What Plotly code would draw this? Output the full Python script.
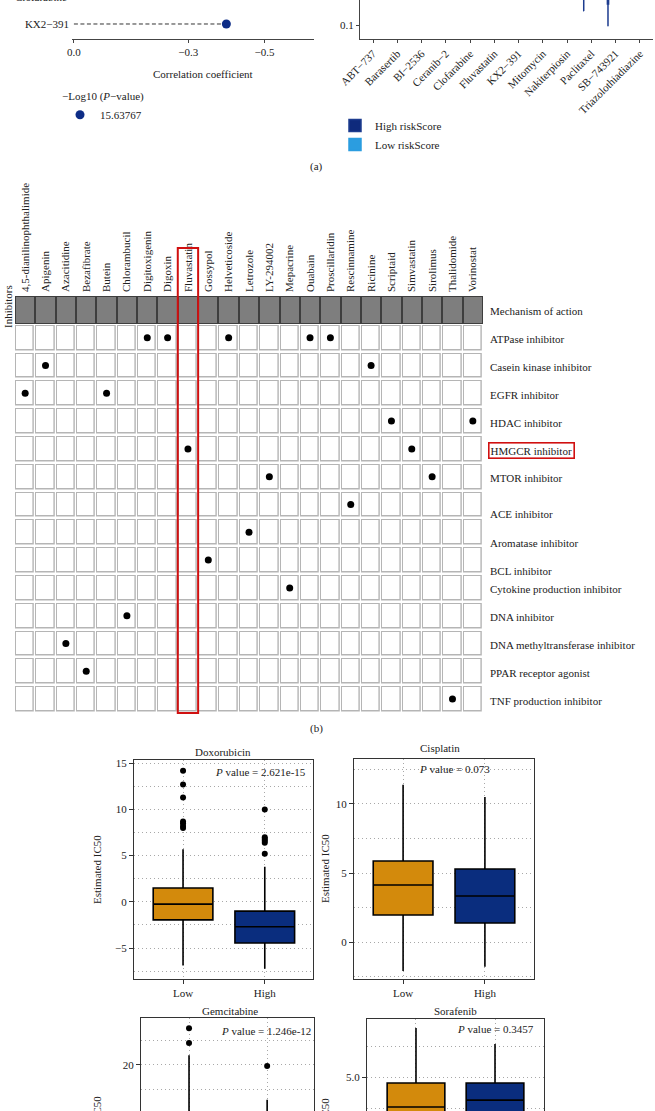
import plotly.graph_objects as go

W, H = 655, 1111
FONT = "Liberation Serif"
TXT = "#222222"


def fx(px):
    return px / W


def fy(py):
    return 1 - py / H


# ---------------- (a) left: correlation dot plot ----------------
corr_drugs = ["KX2\u2212391", "Clofarabine"]
corr_values = [-0.400, -0.416]
corr_logp = "15.63767"
corr_tickvals = [0.0, -0.3, -0.5]
corr_ticktext = ["0.0", "\u22120.3", "\u22120.5"]

# ---------------- (a) right: estimated IC50 boxes (log scale) ----------------
ic50_drugs = ["ABT\u2212737", "Barasertib", "BI\u22122536", "Ceranib\u22122", "Clofarabine",
              "Fluvastatin", "KX2\u2212391", "Mitomycin", "Nakiterpiosin", "Paclitaxel",
              "SB\u2212743921", "Triazolothiadiazine"]
high_lower = [3.0, 1.2, 0.5, 4.0, 2.0, 3.0, 0.4, 0.6, 0.3, 0.171, 0.096, 1.5]
high_q1 = [8.0, 4.0, 1.5, 9.0, 6.0, 10.0, 1.2, 1.8, 0.8, 0.6, 0.224, 5.0]
high_med = [12.0, 6.5, 2.5, 13.0, 9.0, 16.0, 2.0, 3.0, 1.3, 1.1, 0.45, 8.0]
high_q3 = [18.0, 10.0, 4.0, 18.0, 14.0, 25.0, 3.2, 4.5, 2.0, 2.0, 0.8, 12.0]
high_upper = [35.0, 20.0, 8.0, 30.0, 26.0, 50.0, 6.0, 9.0, 4.0, 5.0, 2.0, 22.0]
low_lower = [4.0, 1.5, 0.7, 5.0, 3.0, 4.0, 0.6, 0.8, 0.4, 0.3, 0.28, 2.0]
low_q1 = [10.0, 5.0, 2.0, 11.0, 8.0, 13.0, 1.7, 2.3, 1.1, 1.0, 0.5, 6.5]
low_med = [15.0, 8.0, 3.2, 15.0, 12.0, 20.0, 2.8, 3.8, 1.8, 1.7, 0.9, 10.0]
low_q3 = [22.0, 12.0, 5.0, 21.0, 18.0, 30.0, 4.2, 5.6, 2.7, 2.8, 1.5, 15.0]
low_upper = [40.0, 24.0, 10.0, 35.0, 32.0, 60.0, 8.0, 11.0, 5.0, 6.0, 3.5, 27.0]

# ---------------- (b) inhibitors x mechanism grid ----------------
inhibitors = ["4,5-dianilinophthalimide", "Apigenin", "Azacitidine", "Bezafibrate", "Butein",
              "Chlorambucil", "Digitoxigenin", "Digoxin", "Fluvastatin", "Gossypol",
              "Helveticoside", "Letrozole", "LY-294002", "Mepacrine", "Ouabain",
              "Proscillaridin", "Rescinnamine", "Ricinine", "Scriptaid", "Simvastatin",
              "Sirolimus", "Thalidomide", "Vorinostat"]
mechanisms = ["ATPase inhibitor", "Casein kinase inhibitor", "EGFR inhibitor", "HDAC inhibitor",
              "HMGCR inhibitor", "MTOR inhibitor", "ACE inhibitor", "Aromatase inhibitor",
              "BCL inhibitor", "Cytokine production inhibitor", "DNA inhibitor",
              "DNA methyltransferase inhibitor", "PPAR receptor agonist", "TNF production inhibitor"]
inhibitor_moa = ["EGFR inhibitor", "Casein kinase inhibitor", "DNA methyltransferase inhibitor",
                 "PPAR receptor agonist", "EGFR inhibitor", "DNA inhibitor", "ATPase inhibitor",
                 "ATPase inhibitor", "HMGCR inhibitor", "BCL inhibitor", "ATPase inhibitor",
                 "Aromatase inhibitor", "MTOR inhibitor", "Cytokine production inhibitor",
                 "ATPase inhibitor", "ATPase inhibitor", "ACE inhibitor", "Casein kinase inhibitor",
                 "HDAC inhibitor", "HMGCR inhibitor", "MTOR inhibitor", "TNF production inhibitor",
                 "HDAC inhibitor"]
header_label = "Mechanism of action"
highlight_drug = "Fluvastatin"
highlight_moa = "HMGCR inhibitor"

# ---------------- (c) estimated IC50 boxes ----------------
groups = ["Low", "High"]
box_panels = [
    dict(name="Doxorubicin", p="2.621e-15",
         lower=[-6.9, -7.25], q1=[-1.95, -4.45], med=[-0.25, -2.7], q3=[1.5, -1.0], upper=[5.7, 3.8],
         out_low=[14.2, 12.7, 11.3, 8.7, 8.5, 8.2, 8.0], out_high=[10.0, 7.0, 6.8, 6.6, 6.4, 5.2]),
    dict(name="Cisplatin", p="0.073",
         lower=[-2.1, -1.8], q1=[1.96, 1.38], med=[4.13, 3.33], q3=[5.87, 5.29], upper=[11.4, 10.5],
         out_low=[], out_high=[]),
    dict(name="Gemcitabine", p="1.246e-12",
         lower=[-5.0, -6.0], q1=[1.0, -1.0], med=[4.0, 2.0], q3=[8.0, 5.0], upper=[22.0, 12.9],
         out_low=[27.5, 24.5], out_high=[19.8]),
    dict(name="Sorafenib", p="0.3457",
         lower=[0.5, 0.8], q1=[2.3, 2.5], med=[3.79, 4.07], q3=[4.76, 4.76], upper=[6.98, 6.33],
         out_low=[], out_high=[]),
]
box_colors = ["#D38A0C", "#0A2D7E"]

fig = go.Figure()

# ---- (a) left traces
seg_x, seg_y = [], []
for d, v in zip(corr_drugs, corr_values):
    seg_x += [0, v, None]
    seg_y += [d, d, None]
fig.add_trace(go.Scatter(x=seg_x, y=seg_y, mode="lines", xaxis="x", yaxis="y",
                         line=dict(color="#333333", width=1, dash="4px,2.5px"),
                         showlegend=False, hoverinfo="skip"))
fig.add_trace(go.Scatter(x=corr_values, y=corr_drugs, mode="markers", xaxis="x", yaxis="y",
                         marker=dict(color="#0D2C86", size=9), cliponaxis=False,
                         name=corr_logp, legend="legend2", showlegend=True))

# ---- (a) right traces
fig.add_trace(go.Box(x=ic50_drugs, lowerfence=high_lower, q1=high_q1, median=high_med,
                     q3=high_q3, upperfence=high_upper, name="High riskScore",
                     fillcolor="#0F2A7C", line=dict(color="#1D3C8F", width=1.5),
                     xaxis="x2", yaxis="y2", legend="legend", boxpoints=False))
fig.add_trace(go.Box(x=ic50_drugs, lowerfence=low_lower, q1=low_q1, median=low_med,
                     q3=low_q3, upperfence=low_upper, name="Low riskScore",
                     fillcolor="#2B9DE0", line=dict(color="#2B9DE0", width=1.5),
                     xaxis="x2", yaxis="y2", legend="legend", boxpoints=False))

# ---- (b) grid
fig.add_trace(go.Heatmap(x=inhibitors, y=mechanisms,
                         z=[[0] * len(inhibitors) for _ in mechanisms],
                         colorscale=[[0, "#B5B5B5"], [1, "#B5B5B5"]], showscale=False,
                         xgap=1.2, ygap=2.5, xaxis="x3", yaxis="y3", hoverinfo="skip"))
fig.add_trace(go.Heatmap(x=inhibitors, y=mechanisms,
                         z=[[0] * len(inhibitors) for _ in mechanisms],
                         colorscale=[[0, "#FFFFFF"], [1, "#FFFFFF"]], showscale=False,
                         xgap=3.6, ygap=5, xaxis="x3", yaxis="y3", hoverinfo="skip"))
fig.add_trace(go.Heatmap(x=inhibitors, y=[header_label], z=[[1] * len(inhibitors)],
                         colorscale=[[0, "#3E3E3E"], [1, "#3E3E3E"]], showscale=False,
                         xaxis="x3", yaxis="y3", hoverinfo="skip"))
fig.add_trace(go.Heatmap(x=inhibitors, y=[header_label], z=[[1] * len(inhibitors)],
                         colorscale=[[0, "#7E7E7E"], [1, "#7E7E7E"]], showscale=False,
                         xgap=2, ygap=2, xaxis="x3", yaxis="y3", hoverinfo="skip"))
fig.add_trace(go.Scatter(x=inhibitors, y=inhibitor_moa, mode="markers", xaxis="x3", yaxis="y3",
                         marker=dict(color="black", size=7), showlegend=False))

# ---- (c) boxes
for k, bp in enumerate(box_panels):
    ax = str(k + 4)
    for gi, g in enumerate(groups):
        fig.add_trace(go.Box(x=[g], lowerfence=[bp["lower"][gi]], q1=[bp["q1"][gi]],
                             median=[bp["med"][gi]], q3=[bp["q3"][gi]],
                             upperfence=[bp["upper"][gi]], fillcolor=box_colors[gi],
                             line=dict(color="black", width=1.6), whiskerwidth=0,
                             width=0.73, offsetgroup="c" + ax, boxpoints=False,
                             xaxis="x" + ax, yaxis="y" + ax, showlegend=False))
    outs = [("Low", bp["out_low"]), ("High", bp["out_high"])]
    for g, vals in outs:
        if vals:
            fig.add_trace(go.Scatter(x=[g] * len(vals), y=vals, mode="markers",
                                     marker=dict(color="black", size=6),
                                     xaxis="x" + ax, yaxis="y" + ax, showlegend=False))

font = dict(family=FONT, size=11, color=TXT)
layout = dict(
    width=W, height=H, margin=dict(l=0, r=0, t=0, b=0, autoexpand=False),
    paper_bgcolor="white", plot_bgcolor="white", font=font, boxmode="group",
    boxgap=0.3, boxgroupgap=0.3,
)

# axes (a) left
layout["xaxis"] = dict(domain=[fx(72), fx(314)], range=[0.005, -0.63], anchor="y",
                       tickvals=corr_tickvals, ticktext=corr_ticktext, showline=True,
                       linecolor="#444444", linewidth=1, ticks="outside", ticklen=3,
                       tickcolor="#444444", showgrid=False, zeroline=False, automargin=False)
layout["yaxis"] = dict(domain=[fy(39), 1], type="category", categoryorder="array",
                       categoryarray=corr_drugs, range=[-0.556, 0.889], anchor="x",
                       showline=False, ticks="", showgrid=False, zeroline=False,
                       automargin=False, ticklabelstandoff=2)
# axes (a) right
layout["xaxis2"] = dict(domain=[fx(360), fx(653)], type="category", categoryorder="array",
                        categoryarray=ic50_drugs, range=[-0.536, 11.54], anchor="y2",
                        tickangle=-45, showline=True, linecolor="#444444", ticks="outside",
                        ticklen=3, tickcolor="#444444", showgrid=False, automargin=False)
layout["yaxis2"] = dict(domain=[fy(39), 1], type="log", range=[-1.233, -0.583], anchor="x2",
                        tickvals=[0.1], ticktext=["0.1"], showline=True, linecolor="#444444",
                        ticks="outside", ticklen=3, tickcolor="#444444", showgrid=False,
                        zeroline=False, automargin=False)
# axes (b)
rows = [header_label] + mechanisms
layout["xaxis3"] = dict(domain=[fx(15), fx(483)], type="category", categoryorder="array",
                        categoryarray=inhibitors, range=[-0.5, len(inhibitors) - 0.5],
                        anchor="y3", side="top", tickangle=-90, ticks="", showgrid=False,
                        showline=False, zeroline=False, automargin=False,
                        ticklabelstandoff=3)
layout["yaxis3"] = dict(domain=[fy(713), fy(296)], type="category", categoryorder="array",
                        categoryarray=rows, range=[len(rows) - 0.5, -0.5], anchor="x3",
                        showticklabels=False, ticks="", showgrid=False, showline=False,
                        zeroline=False, automargin=False)

# axes (c)
GRID = "#A8A8A8"
GDASH = "1px,3px"
c_dom = [
    dict(x=[134, 313], y=[979, 760], xr=[-0.6, 1.59], yr=[-8.35, 15.35], dt=5, mdt=2.5, fmt="", xl=True),
    dict(x=[354, 534], y=[979, 759], xr=[-0.6, 1.6], yr=[-2.68, 13.26], dt=5, mdt=2.5, fmt="", xl=True),
    dict(x=[141, 314], y=[1111, 1018], xr=[-0.615, 1.6], yr=[10.6, 29.6], dt=10, mdt=5, fmt="", xl=False),
    dict(x=[367, 544], y=[1111, 1019], xr=[-0.62, 1.62], yr=[3.63, 7.34], dt=2.5, mdt=1.25, fmt=".1f", xl=False),
]
for k, d in enumerate(c_dom):
    ax = str(k + 4)
    layout["xaxis" + ax] = dict(domain=[fx(d["x"][0]), fx(d["x"][1])], type="category",
                                categoryorder="array", categoryarray=groups, range=d["xr"],
                                anchor="y" + ax, showline=True, mirror=True,
                                linecolor="#333333", linewidth=1,
                                ticks="outside" if d["xl"] else "", ticklen=4,
                                showticklabels=d["xl"],
                                tickcolor="#333333", showgrid=True, gridcolor=GRID,
                                griddash=GDASH, gridwidth=1, zeroline=False, automargin=False)
    layout["yaxis" + ax] = dict(domain=[fy(d["y"][0]), fy(d["y"][1])], range=d["yr"],
                                anchor="x" + ax, dtick=d["dt"], tick0=0, tickformat=d["fmt"],
                                showline=True, mirror=True, linecolor="#333333", linewidth=1,
                                ticks="outside", ticklen=4, tickcolor="#333333", showgrid=True,
                                gridcolor=GRID, griddash=GDASH, gridwidth=1,
                                minor=dict(dtick=d["mdt"], tick0=0, showgrid=True,
                                           gridcolor=GRID, griddash=GDASH, gridwidth=1,
                                           ticks=""),
                                zeroline=False, automargin=False)

layout["legend"] = dict(x=fx(335), y=fy(111), xanchor="left", yanchor="top",
                        font=dict(family=FONT, size=11, color=TXT), bgcolor="rgba(0,0,0,0)",
                        tracegroupgap=0)
layout["legend2"] = dict(x=fx(60), y=fy(86), xanchor="left", yanchor="top",
                         title=dict(text="\u2212Log10 (<i>P</i>\u2212value)",
                                    font=dict(family=FONT, size=11, color=TXT)),
                         font=dict(family=FONT, size=11, color=TXT), bgcolor="rgba(0,0,0,0)")

ann = []


def ann_px(x, y, text, xanchor="center", **kw):
    a = dict(x=fx(x), y=fy(y), xref="paper", yref="paper", text=text, showarrow=False,
             xanchor=xanchor, yanchor="middle", font=dict(family=FONT, size=11, color=TXT))
    a.update(kw)
    ann.append(a)


ann_px(316, 167, "(a)")
ann_px(316, 728, "(b)")
ann_px(203, 74, "Correlation coefficient")
# partially visible top row label of the dot plot
ann.append(dict(x=0, y=(1 + 0.556) / (0.889 + 0.556), xref="x domain", yref="y domain",
                text=corr_drugs[1], showarrow=False, xanchor="right", yanchor="middle",
                xshift=-3, font=dict(family=FONT, size=11, color=TXT)))
ann_px(8, 307, "Inhibitors", textangle=-90)

label_shift = {"ACE inhibitor": -9.5, "Aromatase inhibitor": -10.5, "BCL inhibitor": -11}
for r in rows:
    a = dict(x=1, y=r, xref="x3 domain", yref="y3", text=r, showarrow=False,
             xanchor="left", yanchor="middle", xshift=5, yshift=label_shift.get(r, -1.5),
             font=dict(family=FONT, size=11, color=TXT))
    if r == highlight_moa:
        a.update(bordercolor="#D01010", borderwidth=1.6, borderpad=1)
    ann.append(a)

# box panel titles, P values, axis titles
titles_px = [(223, 752), (440, 748), (230, 1011), (455, 1011)]
pvals_px = [(308, 772, "right"), (454, 769, "center"), (313, 1031, "right"), (536, 1029, "right")]
ytitles_px = [(97, 870), (325, 869), (97, 1131), (325, 1133)]
for k, bp in enumerate(box_panels):
    ann_px(titles_px[k][0], titles_px[k][1], bp["name"])
    ann_px(pvals_px[k][0], pvals_px[k][1], "<i>P</i> value = " + bp["p"], xanchor=pvals_px[k][2])
    ann_px(ytitles_px[k][0], ytitles_px[k][1], "Estimated IC50", textangle=-90)

layout["annotations"] = ann

# red highlight around the highlighted inhibitor column
hi = inhibitors.index(highlight_drug)
n = len(inhibitors)
layout["shapes"] = [dict(type="rect", xref="x3 domain", yref="y3 domain",
                         x0=hi / n, x1=(hi + 1) / n, y0=0, y1=(713 - 248) / (713 - 296),
                         line=dict(color="#D01010", width=2), fillcolor="rgba(0,0,0,0)",
                         layer="above")]

fig.update_layout(**layout)
fig.write_html("out.html", config={"displayModeBar": False},
               post_script="document.body.style.margin='0';document.body.style.overflow='hidden';")
